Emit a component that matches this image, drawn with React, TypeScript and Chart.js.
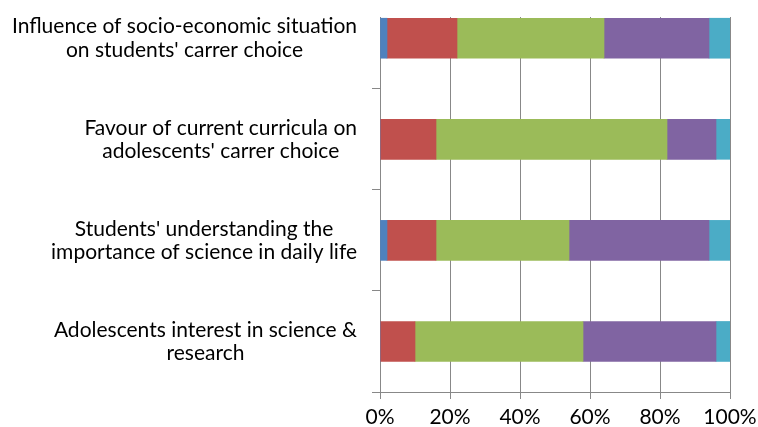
import React, { useEffect, useRef } from "react";
import { Chart, registerables, LinearScale } from "chart.js";

Chart.register(...registerables);

// Scale that keeps each multi-line label right-aligned as a block but centers its lines
class CenteredLinesLinear extends LinearScale {
  static id = "centeredLinesLinear";
  _computeLabelItems(chartArea: any) {
    const items = super._computeLabelItems(chartArea);
    const ctx = this.ctx;
    for (const item of items) {
      const lines = Array.isArray(item.label) ? item.label : [item.label];
      ctx.save();
      ctx.font = item.font.string;
      let w = 0;
      for (const l of lines) w = Math.max(w, ctx.measureText(String(l)).width);
      ctx.restore();
      const o = item.options;
      if (o.textAlign === "right") {
        o.textAlign = "center";
        o.translation = [o.translation[0] - w / 2, o.translation[1]];
      }
    }
    return items;
  }
}
Chart.register(CenteredLinesLinear);

const categories: string[][] = [
  ["Influence of socio-economic situation", "on students' carrer choice"],
  ["Favour of current curricula on", "adolescents' carrer choice"],
  ["Students' understanding the", "importance of science in daily life"],
  ["Adolescents interest in science &", "research"],
];

const seriesNames = ["Strongly disagree", "Disagree", "Neutral", "Agree", "Strongly agree"];
const seriesColors = ["#4F81BD", "#C0504D", "#9BBB59", "#8064A2", "#4BACC6"];

const stronglyDisagree = [2, 0, 2, 0];
const disagree = [20, 16, 14, 10];
const neutral = [42, 66, 38, 48];
const agree = [30, 14, 40, 38];
const stronglyAgree = [6, 4, 6, 4];

const seriesValues = [stronglyDisagree, disagree, neutral, agree, stronglyAgree];

const xTicks = [0, 20, 40, 60, 80, 100];

const FONT = { family: "Lato", size: 21 };
const GRID = "#888888";

export default function App() {
  const ref = useRef<HTMLCanvasElement | null>(null);

  useEffect(() => {
    document.body.style.margin = "0";
    const canvas = ref.current;
    if (!canvas) return;
    const chart = new Chart(canvas, {
      type: "bar",
      data: {
        datasets: seriesValues.map((vals, si) => ({
          label: seriesNames[si],
          data: vals.map((v, i) => ({ x: v, y: i })),
          backgroundColor: seriesColors[si],
          borderWidth: 0,
          barThickness: 40,
        })),
      },
      options: {
        indexAxis: "y",
        animation: false,
        responsive: false,
        layout: { padding: { top: 17, right: 28, left: 0, bottom: 0 } },
        plugins: { legend: { display: false }, tooltip: { enabled: false } },
        scales: {
          x: {
            type: "linear",
            stacked: true,
            min: 0,
            max: 100,
            offset: false,
            afterBuildTicks: (scale: any) => {
              scale.ticks = xTicks.map((v) => ({ value: v }));
            },
            afterFit: (scale: any) => {
              scale.height = 35;
              scale.paddingLeft = 0;
              scale.paddingRight = 0;
            },
            ticks: {
              font: { ...FONT, lineHeight: 1 },
              color: "#000000",
              padding: 8,
              maxRotation: 0,
              callback: (v: any) => v + "%",
            },
            grid: { color: GRID, lineWidth: 1, tickLength: 7, tickColor: GRID, offset: false },
            border: { display: true, color: GRID, width: 1 },
          },
          y: {
            type: "centeredLinesLinear" as any,
            stacked: true,
            reverse: true,
            offset: false,
            min: -0.21,
            max: 3.5,
            afterBuildTicks: (scale: any) => {
              const t: { value: number }[] = [];
              for (let i = 0; i < categories.length; i++) {
                t.push({ value: i });
                t.push({ value: i + 0.5 });
              }
              scale.ticks = t;
            },
            afterFit: (scale: any) => {
              scale.width = 380;
              scale.paddingTop = 0;
              scale.paddingBottom = 0;
            },
            ticks: {
              font: { ...FONT, lineHeight: 1.1 },
              color: "#000000",
              padding: 15,
              autoSkip: false,
              callback: (v: any) => (Number.isInteger(v) ? categories[v] : ""),
            },
            grid: {
              offset: false,
              drawOnChartArea: false,
              tickLength: 8,
              tickColor: (ctx: any) =>
                ctx.tick && Number.isInteger(ctx.tick.value) ? "rgba(0,0,0,0)" : GRID,
            },
            border: { display: true, color: GRID, width: 1 },
          },
        },
      },
    } as any);
    return () => chart.destroy();
  }, []);

  return (
    <div style={{ width: 758, height: 427, background: "#ffffff" }}>
      <canvas ref={ref} width={758} height={427} style={{ display: "block" }} />
    </div>
  );
}
